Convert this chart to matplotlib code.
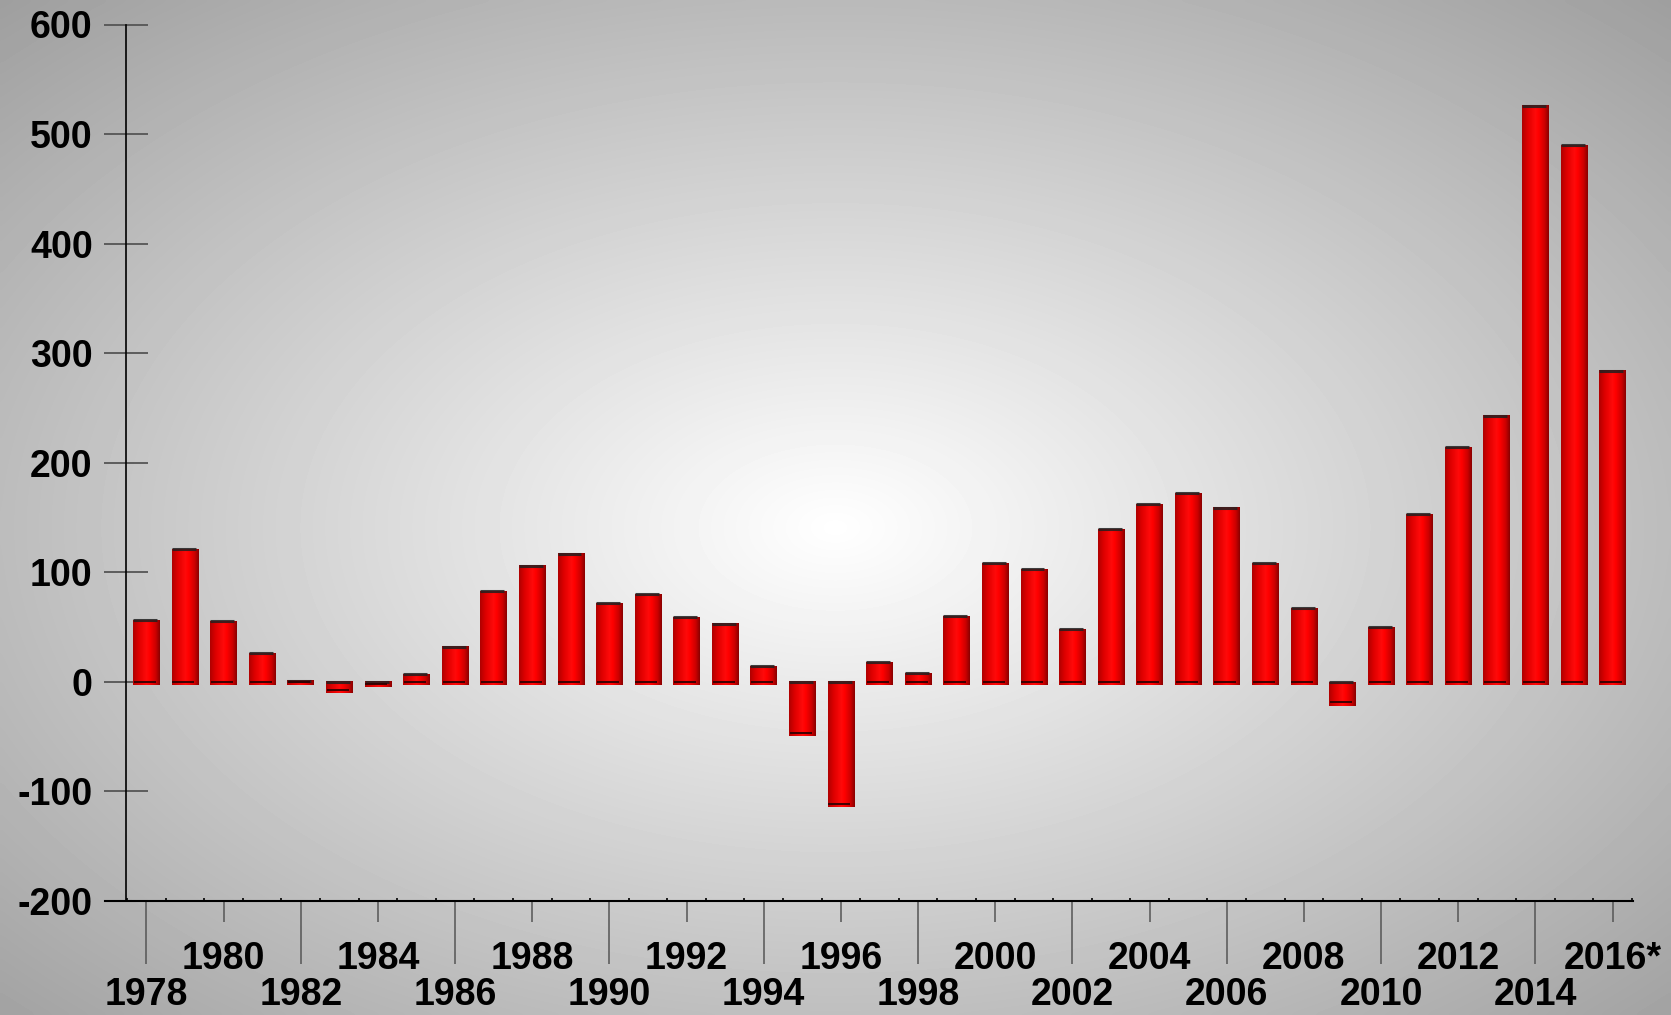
import numpy as np
import matplotlib.pyplot as plt
from matplotlib.colors import LinearSegmentedColormap

plt.rcParams['font.family'] = ['Liberation Sans', 'DejaVu Sans']
plt.rcParams['font.weight'] = 'bold'
plt.rcParams['axes.unicode_minus'] = False

# data
years = np.arange(1978, 2017)
values = [56, 121, 55, 26, 1, -8, -2, 7, 32, 83, 106, 117, 72, 80, 59, 53,
          14, -47, -112, 18, 8, 60, 108, 103, 48, 139, 162, 172, 159, 108,
          67, -19, 50, 153, 214, 243, 526, 490, 284]
lower_row = list(range(1978, 2016, 4))
upper_row = list(range(1980, 2017, 4))
upper_labels = [str(y) for y in upper_row[:-1]] + ['2016*']
yticks = list(range(-200, 601, 100))

W, H = 1671, 1015
fig = plt.figure(figsize=(W / 100, H / 100), dpi=100)

# radial grey background
bg = fig.add_axes([0, 0, 1, 1], zorder=-10)
gx, gy = np.meshgrid(np.linspace(0, 1, 400), np.linspace(0, 1, 250))
r = np.sqrt((gx - 0.5) ** 2 + (gy - 0.52) ** 2) / np.sqrt(0.5)
shade = 1 - 0.37 * np.clip(r, 0, 1.2)
bg.imshow(shade, cmap='gray', vmin=0, vmax=1, extent=(0, 1, 0, 1),
          aspect='auto', interpolation='bicubic')
bg.axis('off')

ax = fig.add_axes([126 / W, 1 - 900.7 / H, (1633 - 126) / W, (900.7 - 24.5) / H])
ax.patch.set_alpha(0)

bar_cmap = LinearSegmentedColormap.from_list(
    'cyl', [(0, '#b00000'), (0.2, '#dd0000'), (0.5, '#ff0a0a'),
            (0.62, '#ff0000'), (0.85, '#cc0000'), (1, '#8a0000')])
grad = np.linspace(0, 1, 64).reshape(1, -1)
w = 0.69
depth = 2.8
for x, v in zip(years, values):
    hi = max(v, 0)
    lo = min(v, 0)
    ax.imshow(grad, cmap=bar_cmap, extent=(x - w / 2, x + w / 2, lo - depth, hi),
              aspect='auto', interpolation='bilinear', zorder=3)
    # top cap and base rim
    ax.plot([x - w / 2, x + w / 2 - 0.07], [hi, hi], color='#202020',
            lw=2.2, alpha=0.85, zorder=4, solid_capstyle='butt')
    ax.plot([x - w / 2 + 0.02, x + w / 2 - 0.1], [lo, lo], color='#300000',
            lw=1.3, zorder=4, solid_capstyle='butt')

ax.set_xlim(1977.47, 2016.53)
ax.set_ylim(-200, 600)

for s in ['top', 'right', 'bottom']:
    ax.spines[s].set_visible(False)
ax.spines['left'].set_color('black')
ax.spines['left'].set_linewidth(1.2)
ax.plot([-0.014, 1], [0, 0], transform=ax.transAxes, color='black',
        lw=1.5, clip_on=False, zorder=5)

ax.set_yticks(yticks)
ax.set_yticklabels([str(t) for t in yticks])
ax.tick_params(axis='y', direction='inout', length=32, width=1.3,
               color='#555555', labelsize=27, pad=8)

ax.set_xticks(lower_row)
ax.set_xticklabels([str(y) for y in lower_row])
ax.set_xticks(upper_row, minor=True)
ax.set_xticklabels(upper_labels, minor=True)
ax.tick_params(axis='x', which='major', direction='out', length=45,
               width=1.1, color='#555555', labelsize=27, pad=10)
ax.tick_params(axis='x', which='minor', direction='out', length=15,
               width=1.1, color='#555555', labelsize=27, pad=14)

# tiny marks between categories
bounds = np.arange(1977.5, 2016.6, 1.0)
ax.vlines(bounds, 0, 0.003, transform=ax.get_xaxis_transform(),
          color='black', lw=1.2, clip_on=False, zorder=5)

fig.savefig('out.png', dpi=100)
